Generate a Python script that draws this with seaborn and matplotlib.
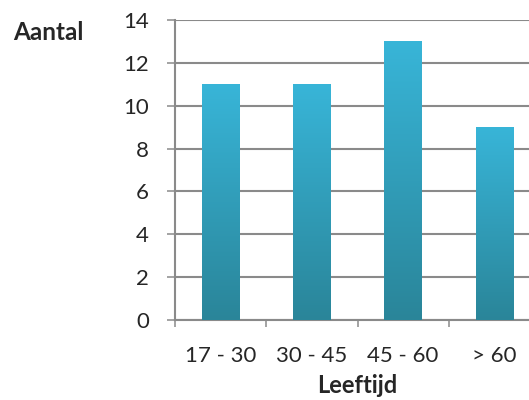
import numpy as np
import pandas as pd
import matplotlib
matplotlib.use("Agg")
import matplotlib.pyplot as plt
import seaborn as sns
from matplotlib.colors import LinearSegmentedColormap

# data
categories = ["17 - 30", "30 - 45", "45 - 60", "> 60"]
counts = [11, 11, 13, 9]
y_ticks = [0, 2, 4, 6, 8, 10, 12, 14]

sns.set_style("white")
plt.rcParams['font.family'] = ['Lato', 'DejaVu Sans']

df = pd.DataFrame({"Leeftijd": categories, "Aantal": counts})

fig = plt.figure(figsize=(5.29, 4.0), dpi=100)
ax = fig.add_axes([175/529, 80/400, 365/529, 300/400])

sns.barplot(data=df, x="Leeftijd", y="Aantal", ax=ax, width=0.41,
            color="#35b0d4", saturation=1, zorder=3)

# vertical gradient on each bar (light top, dark bottom)
cmap = LinearSegmentedColormap.from_list("bar", ["#2a8599", "#38b5d8"])
grad = np.linspace(0, 1, 256).reshape(-1, 1)
for p in ax.patches:
    x0, y0 = p.get_x(), p.get_y()
    w, h = p.get_width(), p.get_height()
    im = ax.imshow(grad, cmap=cmap, origin="lower", aspect="auto",
                   extent=[x0, x0 + w, y0, y0 + h], zorder=3)
    im.set_clip_path(p)
    p.set_facecolor("none")
    p.set_edgecolor("none")

ax.set_xlim(-0.5, 3.5)
ax.set_ylim(0, 14)
ax.set_yticks(y_ticks)

grey = "#8a8a8a"
ax.set_axisbelow(True)
ax.yaxis.grid(True, color=grey, lw=1.5)
ax.xaxis.grid(False)
for s in ["top", "right"]:
    ax.spines[s].set_visible(False)
for s in ["left", "bottom"]:
    ax.spines[s].set_color(grey)
    ax.spines[s].set_linewidth(1.5)

ax.tick_params(axis="y", which="major", direction="out", length=5.8,
               width=1.1, color=grey, pad=13, labelsize=16, left=True)
ax.tick_params(axis="x", which="major", length=0, pad=19, labelsize=16)
ax.set_xticks([-0.5, 0.5, 1.5, 2.5, 3.5], minor=True)
ax.tick_params(axis="x", which="minor", direction="out", length=5,
               width=1.1, color=grey, bottom=True)

ax.set_xlabel("")
ax.set_ylabel("")
fig.text(13/529, 1 - 33/400, "Aantal", ha="left", va="center",
         fontsize=17.5, fontweight="bold")
fig.text(357/529, 3/400, "Leeftijd", ha="center", va="bottom",
         fontsize=17, fontweight="bold")

fig.savefig("out.png", dpi=100)
